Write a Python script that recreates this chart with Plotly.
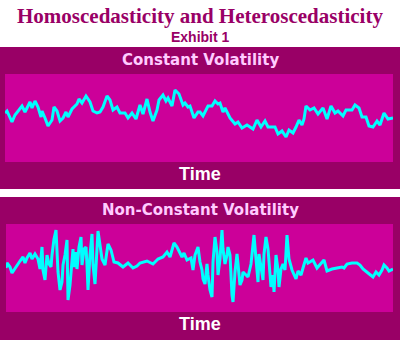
import plotly.graph_objects as go

W, H = 400, 340

# Constant volatility series (time index, level)
time_const = [5, 7, 12, 15, 22, 25, 30, 32, 35, 38, 41, 42, 45, 48, 52, 54, 57, 60, 63, 66, 68, 72,
              77, 79, 82, 86, 90, 93, 97, 100, 103, 107, 110, 113, 117, 120, 125, 128, 132, 136, 140,
              143, 147, 150, 153, 157, 159, 163, 166, 168, 172, 175, 179, 183, 185, 188, 190, 194, 198,
              200, 203, 208, 212, 215, 218, 220, 223, 225, 230, 235, 238, 242, 247, 253, 257, 261, 265,
              268, 275, 278, 282, 286, 289, 293, 296, 299, 302, 304, 306, 310, 314, 318, 323, 327, 331,
              335, 338, 343, 346, 352, 355, 359, 362, 366, 369, 373, 377, 380, 384, 388, 393]
level_const = [49, 51, 40, 47, 56, 50, 60, 54, 61, 55, 45, 51, 44, 36, 42, 55, 51, 41, 44, 50, 45, 53,
               58, 63, 59, 66, 60, 51, 49, 50, 55, 66, 62, 52, 55, 49, 49, 44, 49, 43, 57,
               48, 63, 50, 41, 52, 62, 67, 61, 64, 56, 72, 68, 57, 59, 55, 56, 44, 50,
               50, 46, 56, 56, 61, 58, 59, 50, 54, 44, 38, 40, 34, 37, 33, 42, 35, 41,
               35, 35, 28, 31, 25, 32, 29, 35, 42, 37, 43, 56, 52, 54, 48, 54, 43, 56,
               49, 51, 46, 52, 52, 57, 54, 45, 45, 36, 35, 41, 37, 49, 43, 44]

# Non-constant volatility series (time index, level)
time_var = [6, 7, 10, 12, 14, 17, 20, 23, 25, 27, 30, 32,
            35, 38, 40, 42, 43, 45, 47, 49, 51, 52, 54, 56, 57, 58, 60, 62, 63, 65, 67, 68, 70, 72,
            73, 74, 76, 77, 79, 81, 82, 84, 86, 87, 88, 90, 92, 93, 95, 97, 98, 100, 102, 105, 108,
            111, 114,
            118, 123, 128, 133, 137, 140, 147, 153, 158, 163, 167, 170, 174, 177, 182, 184, 187, 191,
            193,
            195, 198, 200, 202, 203, 205, 207, 208, 210, 212, 213, 215, 217, 218, 220, 222, 223, 225,
            227, 228, 230, 232, 233, 235, 237, 238, 240, 242, 243, 245, 248, 251, 253, 254, 256, 258,
            259, 261, 263, 264, 266, 268, 269, 271, 273, 274, 276, 278, 279, 281, 283, 285, 287, 289,
            292, 294,
            296, 298, 301, 303, 306, 308, 313, 317, 322, 324, 327, 332, 337, 342, 344, 347, 352, 357,
            360, 363, 368, 373, 376, 379, 382, 384, 387, 389, 393]
level_var = [44, 49, 45, 39, 42, 47, 51, 55, 49, 54, 59, 53,
             58, 53, 43, 65, 42, 32, 57, 48, 45, 57, 73, 82, 57, 40, 22, 30, 47, 57, 72, 12, 27, 50,
             63, 45, 60, 43, 65, 75, 47, 63, 65, 47, 22, 57, 78, 47, 28, 63, 81, 67, 53, 47, 68,
             62, 50,
             49, 45, 49, 44, 46, 49, 51, 48, 53, 55, 60, 55, 69, 65, 55, 59, 52, 54,
             42,
             57, 65, 50, 42, 33, 28, 48, 37, 22, 15, 50, 75, 60, 37, 53, 82, 63, 48,
             57, 65, 57, 17, 10, 40, 58, 48, 27, 32, 40, 38, 35, 48, 70, 77, 53, 30,
             58, 43, 32, 58, 75, 63, 47, 25, 37, 20, 57, 42, 25, 43, 48, 42, 77, 53,
             42, 38,
             33, 41, 37, 44, 54, 49, 52, 44, 49, 52, 41, 43, 44, 45, 44, 48, 49, 49,
             47, 43, 39, 35, 40, 37, 42, 47, 44, 41, 43]

panel_titles = ["Constant Volatility", "Non-Constant Volatility"]
axis_label = "Time"
main_title = "Homoscedasticity and Heteroscedasticity"
sub_title = "Exhibit 1"

DARK = "#990066"
INNER = "#CC0099"
LINE = "#00FFFF"
PINK = "#FFCCFF"


def py(p):
    return 1 - p / H


fig = go.Figure()
fig.add_trace(go.Scatter(x=time_const, y=level_const, mode="lines",
                         line=dict(color=LINE, width=3), xaxis="x", yaxis="y",
                         showlegend=False, hoverinfo="skip"))
fig.add_trace(go.Scatter(x=time_var, y=level_var, mode="lines",
                         line=dict(color=LINE, width=3), xaxis="x2", yaxis="y2",
                         showlegend=False, hoverinfo="skip"))

ax_common = dict(showgrid=False, zeroline=False, showticklabels=False, ticks="",
                 showline=False, fixedrange=True)

fig.update_layout(
    width=W, height=H,
    margin=dict(l=0, r=0, t=0, b=0),
    paper_bgcolor="white",
    plot_bgcolor=INNER,
    xaxis=dict(domain=[5 / W, 393 / W], range=[5, 393], anchor="y", **ax_common),
    yaxis=dict(domain=[py(162), py(74)], range=[0, 88], anchor="x", **ax_common),
    xaxis2=dict(domain=[6 / W, 393 / W], range=[6, 393], anchor="y2", **ax_common),
    yaxis2=dict(domain=[py(312), py(224)], range=[0, 88], anchor="x2", **ax_common),
    shapes=[
        dict(type="rect", xref="paper", yref="paper", x0=0, x1=1, y0=py(189), y1=py(47),
             fillcolor=DARK, line=dict(width=0), layer="below"),
        dict(type="rect", xref="paper", yref="paper", x0=0, x1=1, y0=0, y1=py(197),
             fillcolor=DARK, line=dict(width=0), layer="below"),
        dict(type="rect", xref="x domain", yref="y domain", x0=0, x1=1, y0=0, y1=1,
             fillcolor=INNER, line=dict(width=0), layer="below"),
        dict(type="rect", xref="x2 domain", yref="y2 domain", x0=0, x1=1, y0=0, y1=1,
             fillcolor=INNER, line=dict(width=0), layer="below"),
    ],
    annotations=[
        dict(text="<b>" + main_title + "</b>", x=0.5, y=py(16), xref="paper", yref="paper",
             showarrow=False, xanchor="center", yanchor="middle",
             font=dict(family="Liberation Serif", size=21, color=DARK)),
        dict(text="<b>" + sub_title + "</b>", x=0.5, y=py(37), xref="paper", yref="paper",
             showarrow=False, xanchor="center", yanchor="middle",
             font=dict(family="Liberation Sans", size=14, color=DARK)),
        dict(text="<b>" + panel_titles[0] + "</b>", x=0.5, y=py(60), xref="paper", yref="paper",
             showarrow=False, xanchor="center", yanchor="middle",
             font=dict(family="DejaVu Sans", size=15, color=PINK)),
        dict(text="<b>" + panel_titles[1] + "</b>", x=0.5, y=py(210), xref="paper", yref="paper",
             showarrow=False, xanchor="center", yanchor="middle",
             font=dict(family="DejaVu Sans", size=15, color=PINK)),
        dict(text="<b>" + axis_label + "</b>", x=0.5, y=py(174), xref="paper", yref="paper",
             showarrow=False, xanchor="center", yanchor="middle",
             font=dict(family="Liberation Sans", size=18, color="white")),
        dict(text="<b>" + axis_label + "</b>", x=0.5, y=py(324), xref="paper", yref="paper",
             showarrow=False, xanchor="center", yanchor="middle",
             font=dict(family="Liberation Sans", size=18, color="white")),
    ],
)

fig.write_html("out.html", config={"displayModeBar": False})
